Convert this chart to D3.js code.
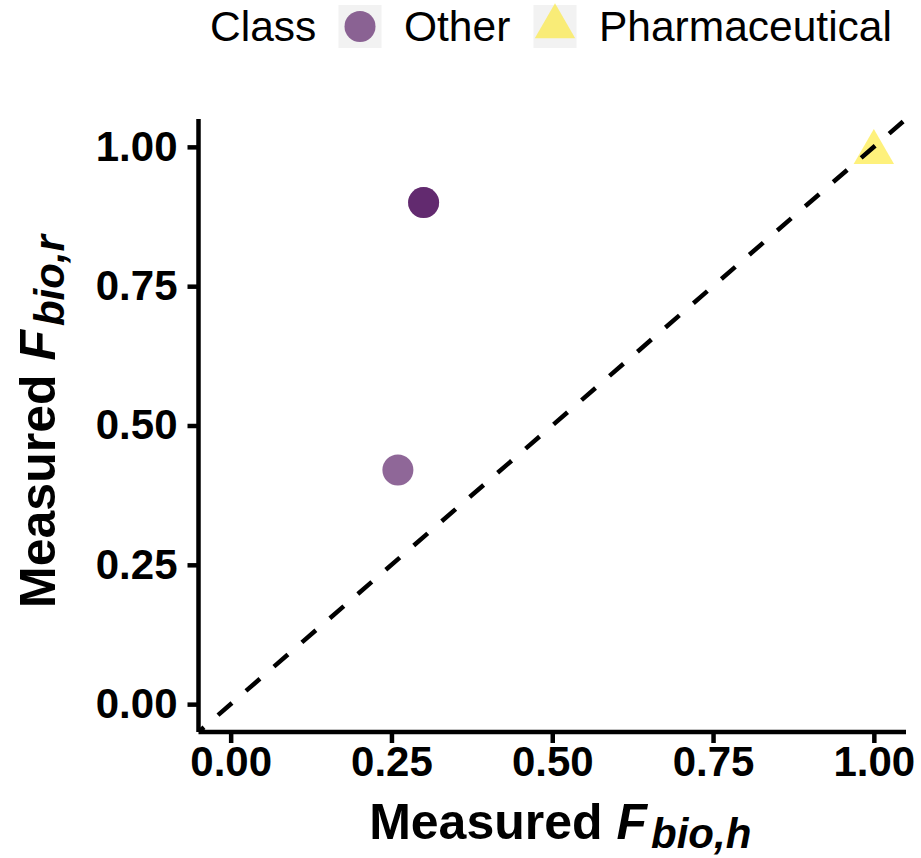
<!DOCTYPE html>
<html>
<head>
<meta charset="utf-8">
<script src="https://cdn.jsdelivr.net/npm/d3@7"></script>
<style>
  html, body { margin: 0; padding: 0; background: #ffffff; }
  svg { display: block; font-family: "Liberation Sans", Arial, Helvetica, sans-serif; }
</style>
</head>
<body>
<svg id="chart" width="921" height="858"></svg>
<script>
// Measured bioavailability: hepatic (h) vs. renal (r) fractions, by compound class
const classNames = ["Other", "Pharmaceutical"];
const classColors = ["#440154", "#FDE725"];
const otherFbioH = [0.26, 0.30, 0.30];
const otherFbioR = [0.42, 0.90, 0.90];
const pharmaFbioH = [1.00];
const pharmaFbioR = [0.99];
const tickValues = [0.00, 0.25, 0.50, 0.75, 1.00];
const axisDomain = [-0.05, 1.05];

const svg = d3.select("#chart");
const panel = { left: 198.5, right: 906, top: 119, bottom: 732 };

const x = d3.scaleLinear().domain(axisDomain).range([panel.left, panel.right]);
const y = d3.scaleLinear().domain(axisDomain).range([panel.bottom, panel.top]);

const pointAlpha = 0.6;
const pointRadius = 15.5;

// Filled triangle centred on its centroid (R pch 17 proportions)
function trianglePath(r) {
  const top = 1.5551 * r, half = 1.3468 * r, low = 0.7776 * r;
  return `M0,${-top}L${half},${low}L${-half},${low}Z`;
}

const points = [];
otherFbioH.forEach((h, i) => points.push({ cls: 0, h, r: otherFbioR[i] }));
pharmaFbioH.forEach((h, i) => points.push({ cls: 1, h, r: pharmaFbioR[i] }));

svg.append("defs").append("clipPath").attr("id", "panelClip")
  .append("rect")
  .attr("x", panel.left).attr("y", panel.top)
  .attr("width", panel.right - panel.left).attr("height", panel.bottom - panel.top);

const plot = svg.append("g").attr("clip-path", "url(#panelClip)");

// points
plot.selectAll("circle.other")
  .data(points.filter(d => d.cls === 0))
  .join("circle")
  .attr("class", "other")
  .attr("cx", d => x(d.h))
  .attr("cy", d => y(d.r))
  .attr("r", pointRadius)
  .attr("fill", classColors[0])
  .attr("fill-opacity", pointAlpha);

plot.selectAll("path.pharma")
  .data(points.filter(d => d.cls === 1))
  .join("path")
  .attr("class", "pharma")
  .attr("transform", d => `translate(${x(d.h)},${y(d.r)})`)
  .attr("d", trianglePath(15))
  .attr("fill", classColors[1])
  .attr("fill-opacity", pointAlpha);

// 1:1 reference line
plot.append("line")
  .attr("x1", x(axisDomain[0])).attr("y1", y(axisDomain[0]))
  .attr("x2", x(axisDomain[1])).attr("y2", y(axisDomain[1]))
  .attr("stroke", "#000")
  .attr("stroke-width", 4.5)
  .attr("stroke-dasharray", "18.5,18.5")
  .attr("stroke-dashoffset", 11.2);

// axes
const tickFmt = d3.format(".2f");
const xAxis = d3.axisBottom(x).tickValues(tickValues).tickFormat(tickFmt).tickSizeOuter(0).tickSizeInner(11).tickPadding(3);
const yAxis = d3.axisLeft(y).tickValues(tickValues).tickFormat(tickFmt).tickSizeOuter(0).tickSizeInner(11).tickPadding(10);

const gx = svg.append("g").attr("transform", `translate(0,${panel.bottom})`).call(xAxis);
const gy = svg.append("g").attr("transform", `translate(${panel.left},0)`).call(yAxis);

[gx, gy].forEach(g => {
  g.select(".domain").attr("stroke", "#000").attr("stroke-width", 4.5);
  g.selectAll(".tick line").attr("stroke", "#000").attr("stroke-width", 4.5);
  g.selectAll(".tick text")
    .attr("fill", "#000")
    .style("font-family", "'Liberation Sans', Arial, sans-serif")
    .style("font-size", "42px")
    .style("font-weight", "bold");
});
gx.select(".domain").attr("d", `M${panel.left},0H${panel.right}`);
gy.select(".domain").attr("d", `M0,${panel.top}V${panel.bottom}`);
gx.selectAll(".tick text").attr("dy", "0.71em");

// axis titles
function axisTitle(sel, sub) {
  sel.attr("text-anchor", "middle")
    .style("font-weight", "bold")
    .attr("fill", "#000");
  sel.append("tspan").style("font-size", "50px").text("Measured ");
  sel.append("tspan").style("font-size", "50px").style("font-style", "italic").text("F");
  sel.append("tspan").style("font-size", "42px").style("font-style", "italic")
    .attr("dx", 4).attr("dy", 9).text(sub);
}

axisTitle(svg.append("text").attr("x", (panel.left + panel.right) / 2 + 8).attr("y", 839), "bio,h");
axisTitle(svg.append("text")
  .attr("transform", `translate(55,${(panel.top + panel.bottom) / 2 - 4}) rotate(-90)`), "bio,r");

// legend
const legend = svg.append("g");
legend.append("text").attr("x", 210).attr("y", 41)
  .style("font-size", "42.5px").attr("fill", "#000").text("Class");

const keyX = [338.5, 533.5];
const labelX = [404, 599];
classNames.forEach((name, i) => {
  const k = legend.append("g").attr("transform", `translate(${keyX[i]},5)`);
  k.append("rect").attr("width", 43).attr("height", 43).attr("fill", "#f2f2f2");
  if (i === 0) {
    k.append("circle").attr("cx", 21.5).attr("cy", 21.5).attr("r", pointRadius)
      .attr("fill", classColors[i]).attr("fill-opacity", pointAlpha);
  } else {
    k.append("path").attr("transform", "translate(21.5,21.5)").attr("d", trianglePath(15))
      .attr("fill", classColors[i]).attr("fill-opacity", pointAlpha);
  }
  legend.append("text").attr("x", labelX[i]).attr("y", 41)
    .style("font-size", "42.5px").attr("fill", "#000").text(name);
});
</script>
</body>
</html>
